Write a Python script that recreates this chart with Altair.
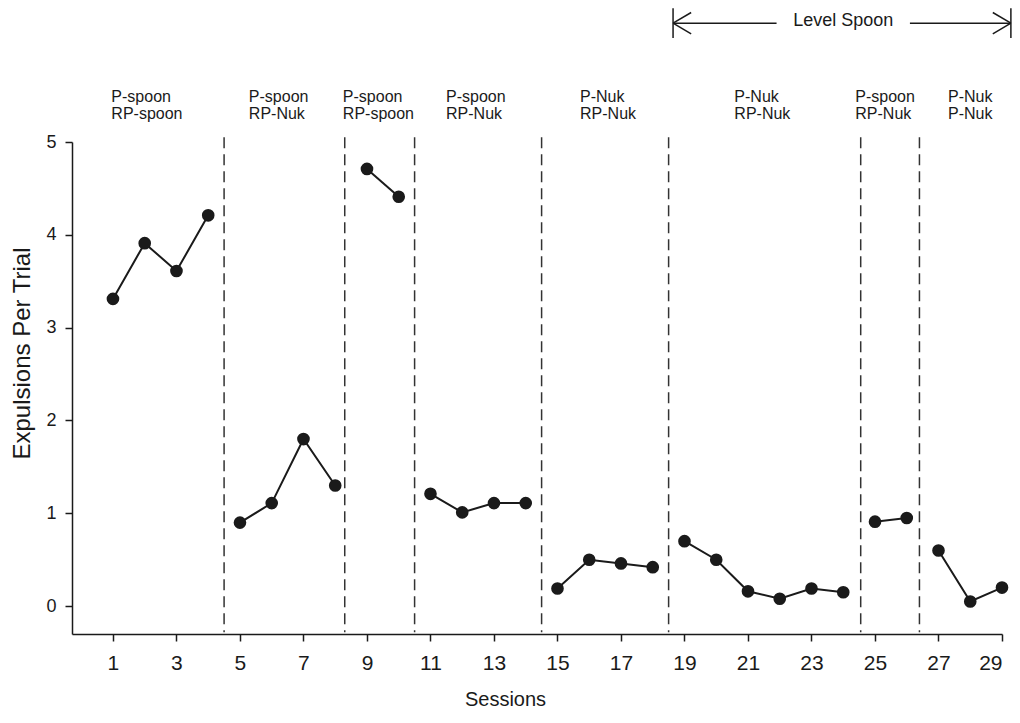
import altair as alt
import pandas as pd

# ---------------- data ----------------
sessions = list(range(1, 30))
expulsions = [3.31, 3.91, 3.61, 4.21, 0.90, 1.11, 1.80, 1.30, 4.71, 4.41,
              1.21, 1.01, 1.11, 1.11, 0.19, 0.50, 0.46, 0.42, 0.70, 0.50,
              0.16, 0.08, 0.19, 0.15, 0.91, 0.95, 0.60, 0.05, 0.20]
phase_ids = [1, 1, 1, 1, 2, 2, 2, 2, 3, 3, 4, 4, 4, 4, 5, 5, 5, 5,
             6, 6, 6, 6, 6, 6, 7, 7, 8, 8, 8]
phase_lines = [4.5, 8.3, 10.5, 14.5, 18.5, 24.55, 26.4]
phase_label_x = [0.95, 5.28, 8.24, 11.49, 15.71, 20.57, 24.38, 27.3]
phase_labels = ["P-spoon\nRP-spoon", "P-spoon\nRP-Nuk", "P-spoon\nRP-spoon",
                "P-spoon\nRP-Nuk", "P-Nuk\nRP-Nuk", "P-Nuk\nRP-Nuk",
                "P-spoon\nRP-Nuk", "P-Nuk\nP-Nuk"]
x_ticks = list(range(1, 30, 2))
y_ticks = [0, 1, 2, 3, 4, 5]
level_label = "Level Spoon"
level_start, level_end = 18.64, 29.28
level_gap = [21.9, 26.1]
level_text_x = 24.0

# ---------------- annotation geometry (data units) ----------------
LABEL_Y = 5.57
LEVEL_Y = 6.28
ARM_DX, ARM_DY = 0.57, 0.115
BAR_LO, BAR_HI = 6.12, 6.44
LINE_TOP, LINE_BOT = 5.05, -0.28

FONT = "Liberation Sans"
INK = "#1a1a1a"

xs = alt.Scale(domain=[-0.29, 29], nice=False, zero=False)
ys = alt.Scale(domain=[-0.3, 5], nice=False, zero=False)

df = pd.DataFrame({"session": sessions, "value": expulsions, "phase": phase_ids})
df_lines = pd.DataFrame({"x": phase_lines, "top": LINE_TOP, "bot": LINE_BOT})
df_labels = pd.DataFrame({"x": phase_label_x, "y": LABEL_Y, "label": phase_labels})

segs = [
    (level_start, LEVEL_Y, level_gap[0], LEVEL_Y),
    (level_gap[1], LEVEL_Y, level_end, LEVEL_Y),
    (level_start, LEVEL_Y, level_start + ARM_DX, LEVEL_Y + ARM_DY),
    (level_start, LEVEL_Y, level_start + ARM_DX, LEVEL_Y - ARM_DY),
    (level_end, LEVEL_Y, level_end - ARM_DX, LEVEL_Y + ARM_DY),
    (level_end, LEVEL_Y, level_end - ARM_DX, LEVEL_Y - ARM_DY),
    (level_start, BAR_LO, level_start, BAR_HI),
    (level_end, BAR_LO, level_end, BAR_HI),
]
df_segs = pd.DataFrame(segs, columns=["x", "y", "x2", "y2"])
df_level = pd.DataFrame({"x": [level_text_x], "y": [LEVEL_Y + 0.02], "label": [level_label]})

x_axis = alt.Axis(
    values=x_ticks, title="Sessions", grid=False,
    tickSize=7, tickWidth=1.5, tickColor=INK,
    domainColor=INK, domainWidth=1.5,
    labelFont=FONT, labelFontSize=21, labelColor=INK, labelPadding=11,
    titleFont=FONT, titleFontSize=20, titleFontWeight="normal", titleColor=INK,
    titleX=433, titleY=75, titleAnchor="start", titleAlign="center",
    titleBaseline="bottom",
)
y_axis = alt.Axis(
    values=y_ticks, title="Expulsions Per Trial", grid=False,
    tickSize=7, tickWidth=1.5, tickColor=INK,
    domainColor=INK, domainWidth=1.5,
    labelFont=FONT, labelFontSize=18, labelColor=INK, labelPadding=9,
    titleFont=FONT, titleFontSize=24, titleFontWeight="normal", titleColor=INK,
    titleX=-50, titleY=211, titleAngle=270, titleAlign="center",
    titleBaseline="middle",
)


def X(field):
    return alt.X(field, scale=xs, axis=x_axis)


def Y(field):
    return alt.Y(field, scale=ys, axis=y_axis)


phase_rules = alt.Chart(df_lines).mark_rule(
    color="#333333", strokeWidth=1.5, strokeDash=[11, 6]
).encode(x=X("x:Q"), y=Y("top:Q"), y2="bot:Q")

lines = alt.Chart(df).mark_line(color=INK, strokeWidth=2).encode(
    x=X("session:Q"), y=Y("value:Q"), detail="phase:N"
)
points = alt.Chart(df).mark_circle(color=INK, opacity=1, size=160).encode(
    x=X("session:Q"), y=Y("value:Q")
)
labels = alt.Chart(df_labels).mark_text(
    align="left", baseline="top", lineBreak="\n", font=FONT,
    fontSize=16, lineHeight=17, color=INK,
).encode(x=X("x:Q"), y=Y("y:Q"), text="label:N")

level_rules = alt.Chart(df_segs).mark_rule(color=INK, strokeWidth=1.5).encode(
    x=X("x:Q"), y=Y("y:Q"), x2="x2:Q", y2="y2:Q"
)
level_text = alt.Chart(df_level).mark_text(
    align="center", baseline="middle", font=FONT, fontSize=18, color=INK,
).encode(x=X("x:Q"), y=Y("y:Q"), text="label:N")

chart = alt.layer(
    phase_rules, lines, points, labels, level_rules, level_text
).properties(
    width=930,
    height=492,
    autosize=alt.AutoSizeParams(type="none"),
    padding={"left": 64, "top": 134, "right": 10, "bottom": 77},
    background="white",
).configure_view(stroke=None)

chart.save("out.html", embed_options={"renderer": "svg", "actions": False})
